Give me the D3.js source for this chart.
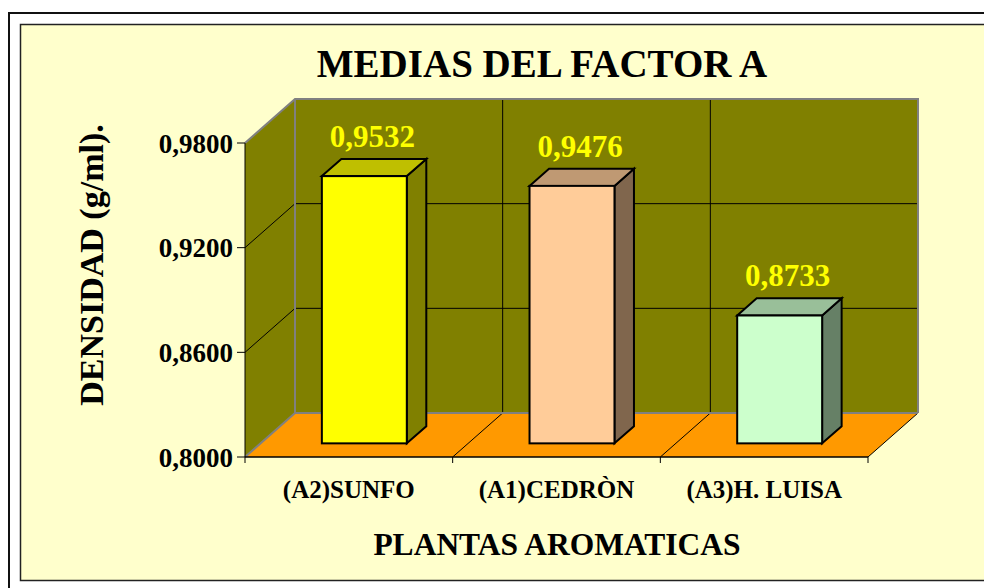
<!DOCTYPE html>
<html><head><meta charset="utf-8">
<script src="https://cdn.jsdelivr.net/npm/d3@7"></script>
<style>
html,body{margin:0;padding:0;background:#fff;}
svg text{font-family:"Liberation Serif","Times New Roman",serif;font-weight:bold;}
</style></head>
<body>
<svg id="chart" width="984" height="588"></svg>
<script>
// ---- data ----
const categories = ["(A2)SUNFO", "(A1)CEDRÒN", "(A3)H. LUISA"];
const values = [0.9532, 0.9476, 0.8733];
const valueLabels = ["0,9532", "0,9476", "0,8733"];
const barColors = ["#FFFF00", "#FFCC99", "#CCFFCC"];
const yTicks = [0.80, 0.86, 0.92, 0.98];
const yTickLabels = ["0,8000", "0,8600", "0,9200", "0,9800"];
const chartTitle = "MEDIAS DEL FACTOR A";
const yTitle = "DENSIDAD (g/ml).";
const xTitle = "PLANTAS AROMATICAS";

(function () {
// ---- layout ----
const svg = d3.select("#chart");
const pLeft = 245, pRight = 868, pBottom = 457, pTop = 143;
const DX = 50, DY = -44;             // 3D depth offset
const fFront = 0.31, fBack = 0.70;   // bar depth fractions

const x = d3.scaleBand().domain(categories).range([pLeft, pRight]).paddingInner(0.591).paddingOuter(0.2955);
const xb = d3.scaleBand().domain(categories).range([pLeft, pRight]).paddingInner(0).paddingOuter(0);
const y = d3.scaleLinear().domain([0.80, 0.98]).range([pBottom, pTop]);

// frame
svg.append("rect").attr("x", 0).attr("y", 0).attr("width", 984).attr("height", 588).attr("fill", "#fff");
svg.append("rect").attr("x", 9).attr("y", 13).attr("width", 1000).attr("height", 600)
  .attr("fill", "none").attr("stroke", "#111").attr("stroke-width", 2);
svg.append("rect").attr("x", 20.5).attr("y", 24.5).attr("width", 1000).attr("height", 556)
  .attr("fill", "#FFFFCC").attr("stroke", "#222").attr("stroke-width", 1.5);

const pts = a => a.map(p => p.join(",")).join(" ");
const y0 = y(0.80), yTop = y(0.98);

// walls
svg.append("polygon").attr("points", pts([[pLeft, y0], [pLeft + DX, y0 + DY], [pLeft + DX, yTop + DY], [pLeft, yTop]])).attr("fill", "#808000");
svg.append("polygon").attr("points", pts([[pLeft + DX, yTop + DY], [pRight + DX, yTop + DY], [pRight + DX, y0 + DY], [pLeft + DX, y0 + DY]])).attr("fill", "#808000");
svg.append("polygon").attr("points", pts([[pLeft, y0], [pRight, y0], [pRight + DX, y0 + DY], [pLeft + DX, y0 + DY]])).attr("fill", "#FF9900");

// gridlines (horizontal) on left and back walls
const inner = yTicks.filter(t => t > 0.80 && t < 0.98);
inner.forEach(t => {
  svg.append("polyline").attr("points", pts([[pLeft, y(t)], [pLeft + DX, y(t) + DY], [pRight + DX, y(t) + DY]]))
    .attr("fill", "none").attr("stroke", "#000").attr("stroke-width", 1);
});
// vertical grid on back wall and floor diagonals at category boundaries
const bounds = categories.slice(1).map(c => xb(c));
bounds.forEach(bx => {
  svg.append("line").attr("x1", bx + DX).attr("x2", bx + DX).attr("y1", y0 + DY).attr("y2", yTop + DY).attr("stroke", "#000").attr("stroke-width", 1);
  svg.append("line").attr("x1", bx).attr("x2", bx + DX).attr("y1", y0).attr("y2", y0 + DY).attr("stroke", "#000").attr("stroke-width", 1);
});
svg.append("line").attr("x1", pRight).attr("x2", pRight + DX).attr("y1", y0).attr("y2", y0 + DY).attr("stroke", "#000").attr("stroke-width", 1);

// gray wall edges
svg.append("polyline").attr("points", pts([[pLeft, yTop], [pLeft + DX, yTop + DY], [pRight + DX, yTop + DY], [pRight + DX, y0 + DY]]))
  .attr("fill", "none").attr("stroke", "#808080").attr("stroke-width", 2);
svg.append("polyline").attr("points", pts([[pLeft, y0], [pLeft + DX, y0 + DY], [pLeft + DX, yTop + DY]]))
  .attr("fill", "none").attr("stroke", "#808080").attr("stroke-width", 2);
svg.append("line").attr("x1", pLeft + DX).attr("x2", pRight + DX).attr("y1", y0 + DY).attr("y2", y0 + DY).attr("stroke", "#808080").attr("stroke-width", 2);

// axes lines
svg.append("line").attr("x1", pLeft).attr("x2", pRight).attr("y1", y0).attr("y2", y0).attr("stroke", "#000").attr("stroke-width", 1.5);
svg.append("line").attr("x1", pLeft).attr("x2", pLeft).attr("y1", y0).attr("y2", yTop).attr("stroke", "#000").attr("stroke-width", 1);

// y axis ticks + labels
const yAxis = svg.append("g");
yTicks.forEach((t, i) => {
  yAxis.append("line").attr("x1", pLeft - 8).attr("x2", pLeft).attr("y1", y(t)).attr("y2", y(t)).attr("stroke", "#000");
  yAxis.append("text").attr("x", pLeft - 12).attr("y", y(t)).attr("dy", "0.36em").attr("text-anchor", "end")
    .attr("font-size", 27).attr("fill", "#000").text(yTickLabels[i]);
});
// x ticks
[...categories.map(c => xb(c)), pRight].forEach(bx => {
  svg.append("line").attr("x1", bx).attr("x2", bx).attr("y1", y0).attr("y2", y0 + 6).attr("stroke", "#000");
});
// x labels
categories.forEach(c => {
  svg.append("text").attr("x", xb(c) + xb.bandwidth() / 2).attr("y", 498).attr("text-anchor", "middle")
    .attr("font-size", 25).attr("fill", "#000").text(c);
});

// bars
const shade = (c, k) => { const r = d3.rgb(c); return d3.rgb(r.r * k, r.g * k, r.b * k).formatHex(); };
const fdx = fFront * DX, fdy = fFront * DY, bdx = (fBack - fFront) * DX, bdy = (fBack - fFront) * DY;
categories.forEach((c, i) => {
  const x0 = x(c) + fdx, x1 = x0 + x.bandwidth();
  const yb = y(0.80) + fdy, yt = y(values[i]) + fdy;
  const g = svg.append("g").attr("stroke", "#000").attr("stroke-width", 2).attr("stroke-linejoin", "miter");
  g.append("polygon").attr("points", pts([[x1, yb], [x1 + bdx, yb + bdy], [x1 + bdx, yt + bdy], [x1, yt]])).attr("fill", shade(barColors[i], 0.5));
  g.append("polygon").attr("points", pts([[x0, yt], [x1, yt], [x1 + bdx, yt + bdy], [x0 + bdx, yt + bdy]])).attr("fill", shade(barColors[i], 0.75));
  g.append("rect").attr("x", x0).attr("y", yt).attr("width", x1 - x0).attr("height", yb - yt).attr("fill", barColors[i]);
  svg.append("text").attr("x", (x0 + x1) / 2 + 8).attr("y", yt + bdy - 12).attr("text-anchor", "middle")
    .attr("font-size", 31).attr("fill", "#FFFF00").text(valueLabels[i]);
});

// titles
svg.append("text").attr("x", 542).attr("y", 77).attr("text-anchor", "middle").attr("font-size", 39).attr("fill", "#000").text(chartTitle);
svg.append("text").attr("transform", "translate(103,265) rotate(-90)").attr("text-anchor", "middle").attr("font-size", 34).attr("fill", "#000").text(yTitle);
svg.append("text").attr("x", 557).attr("y", 555).attr("text-anchor", "middle").attr("font-size", 31.5).attr("fill", "#000").text(xTitle);
})();
</script>
</body></html>
